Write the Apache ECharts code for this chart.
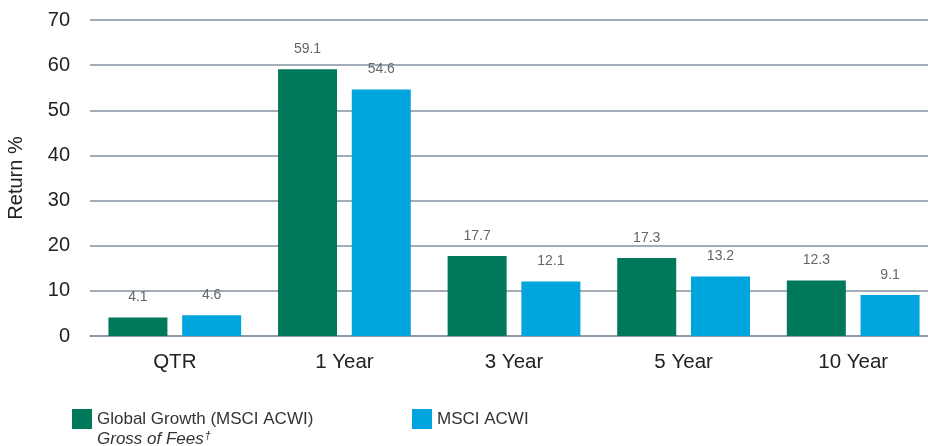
<!DOCTYPE html>
<html><head><meta charset="utf-8">
<script src="https://cdn.jsdelivr.net/npm/echarts@6/dist/echarts.min.js"></script>
<style>html,body{margin:0;padding:0;background:#fff}#c{width:928px;height:446px}</style>
</head><body><div id="c"></div>
<script>
const categories = ['QTR', '1 Year', '3 Year', '5 Year', '10 Year'];
const growthName = 'Global Growth (MSCI ACWI)';
const growthValues = [4.1, 59.1, 17.7, 17.3, 12.3];
const acwiName = 'MSCI ACWI';
const acwiValues = [4.6, 54.6, 12.1, 13.2, 9.1];
const yTicks = {min: 0, max: 70, interval: 10};

const chart = echarts.init(document.getElementById('c'), null, {renderer: 'canvas'});
const font = 'Liberation Sans, Arial, Helvetica, sans-serif';
const labelStyle = {show: true, position: 'top', distance: 13, color: '#666', fontSize: 14, fontFamily: font};
chart.setOption({
  animation: false,
  textStyle: {fontFamily: font},
  grid: {left: 90, right: -10, top: 20, bottom: 110, outerBoundsMode: 'none', containLabel: false},
  legend: [
    {data: [growthName], left: 72, top: 409, padding: 0, itemWidth: 20, itemHeight: 20, itemGap: 6, icon: 'rect',
     textStyle: {fontSize: 17, color: '#333', fontFamily: font}},
    {data: [acwiName], left: 412, top: 409, padding: 0, itemWidth: 20, itemHeight: 20, icon: 'rect',
     textStyle: {fontSize: 17, color: '#333', fontFamily: font}}
  ],
  graphic: [{type: 'text', left: 97, top: 430, style: {
    text: '{a|Gross of Fees}{b|†}',
    rich: {a: {fontSize: 17, fontStyle: 'italic', fill: '#333', fontFamily: font},
           b: {fontSize: 11, fontStyle: 'italic', fill: '#333', fontFamily: font, verticalAlign: 'top', padding: [0,0,8,1]}}
  }}],
  xAxis: {type: 'category', data: categories,
    axisLine: {show: true, lineStyle: {color: '#8592a0', width: 1.5}},
    axisTick: {show: false},
    axisLabel: {fontSize: 20.5, color: '#222', margin: 16, fontFamily: font}},
  yAxis: {type: 'value', min: yTicks.min, max: yTicks.max, interval: yTicks.interval,
    name: 'Return %', nameLocation: 'middle', nameGap: 64, nameRotate: 90,
    nameTextStyle: {fontSize: 20, color: '#222', fontFamily: font},
    axisLine: {show: false}, axisTick: {show: false},
    axisLabel: {fontSize: 20, color: '#222', margin: 20, fontFamily: font},
    splitLine: {lineStyle: {color: '#8592a0', width: 1.5}}},
  series: [
    {name: growthName, type: 'bar', data: growthValues, barWidth: 59, barGap: '25%',
     itemStyle: {color: '#00795b'}, label: labelStyle},
    {name: acwiName, type: 'bar', data: acwiValues, barWidth: 59,
     itemStyle: {color: '#00a5dd'}, label: labelStyle}
  ]
});
</script></body></html>
